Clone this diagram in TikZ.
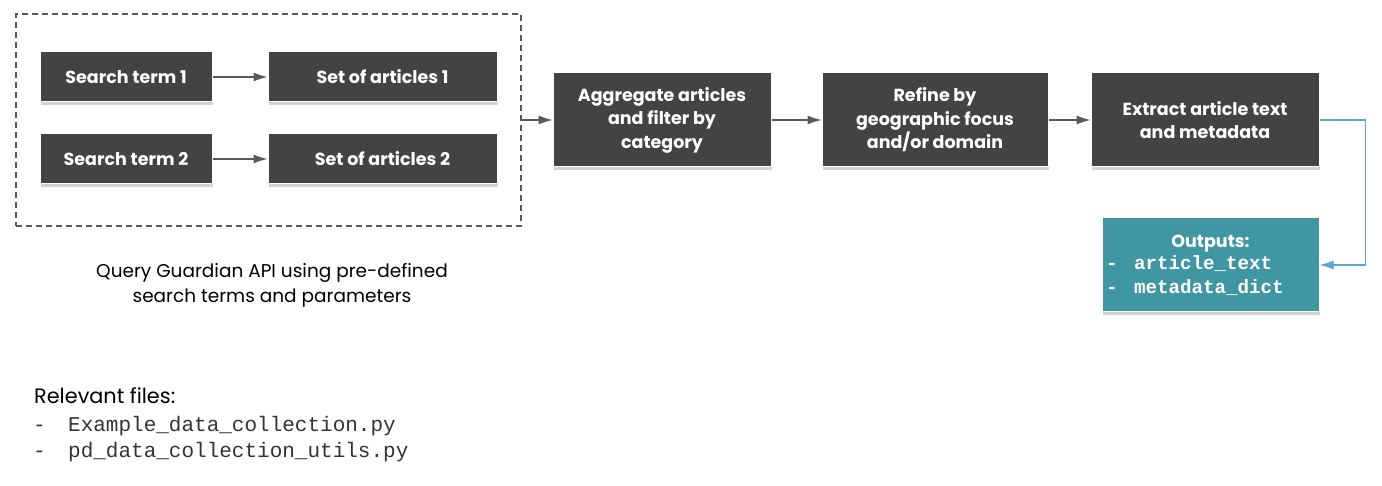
\documentclass[tikz,border=0pt]{standalone}
\usepackage{fontspec}
\setmainfont{Poppins}
\setmonofont{Liberation Mono}
\usetikzlibrary{arrows.meta, shadows}
\definecolor{boxgray}{HTML}{434343}
\definecolor{arrowgray}{HTML}{595959}
\definecolor{outteal}{HTML}{4096A3}
\definecolor{linkblue}{HTML}{5AA6D2}

\begin{document}
\begin{tikzpicture}[x=1pt, y=-1pt,
    stepbox/.style={draw=white, line width=1pt, fill=boxgray, text=white,
        font=\fontsize{17.5}{23.5}\selectfont\bfseries, align=center,
        drop shadow={shadow xshift=1pt, shadow yshift=-3pt, fill=black!35, opacity=0.5}},
    querybox/.style={draw=arrowgray, line width=1.2pt, dash pattern=on 6pt off 4pt},
    flow/.style={draw=arrowgray, line width=1.2pt, -{Latex[length=14pt, width=9pt]}}]
    \useasboundingbox (0, 0) rectangle (1382, 486);
    % Query stage
    \node [querybox, minimum width=505, minimum height=212] (query) at (268.5, 120) {};
    \node [stepbox, minimum width=172, minimum height=50] (term1) at (126, 77) {Search term 1};
    \node [stepbox, minimum width=229, minimum height=50] (set1) at (382.5, 77) {Set of articles 1};
    \node [stepbox, minimum width=172, minimum height=50] (term2) at (126, 159) {Search term 2};
    \node [stepbox, minimum width=229, minimum height=50] (set2) at (382.5, 159) {Set of articles 2};
    \node [font=\fontsize{18.5}{25}\selectfont, align=center] (querytext) at (272, 285)
        {Query Guardian API using pre-defined\\search terms and parameters};
    % Processing stages
    \node [stepbox, minimum width=218, minimum height=94] (aggregate) at (662, 120)
        {Aggregate articles\\and filter by\\category};
    \node [stepbox, minimum width=226, minimum height=94] (refine) at (935, 120)
        {Refine by\\geographic focus\\and/or domain};
    \node [stepbox, minimum width=228, minimum height=94] (extract) at (1205, 120)
        {Extract article text\\and metadata};
    \node [stepbox, fill=outteal, minimum width=217, minimum height=94, align=left,
        inner xsep=4pt] (outputs) at (1210.5, 265)
        {\makebox[209pt]{Outputs:}\\[-1pt]
         {\fontsize{19.2}{24}\ttfamily\bfseries\makebox[28pt][l]{-}article\_text}\\
         {\fontsize{19.2}{24}\ttfamily\bfseries\makebox[28pt][l]{-}metadata\_dict}};
    % Files
    \node [font=\fontsize{20.8}{24}\selectfont, anchor=west, inner sep=0pt] (files) at (34, 396)
        {Relevant files:};
    \node [font=\fontsize{21}{26}\ttfamily, text=black!80, align=left, anchor=north west,
        inner sep=0pt] (filelist) at (33, 416)
        {\makebox[35pt][l]{-}Example\_data\_collection.py\\
         \makebox[35pt][l]{-}pd\_data\_collection\_utils.py};
    % Arrows
    \draw [flow] (term1) -- (set1);
    \draw [flow] (term2) -- (set2);
    \draw [flow] (query) -- (aggregate);
    \draw [flow] (aggregate) -- (refine);
    \draw [flow] (refine) -- (extract);
    \draw [draw=linkblue, line width=1.5pt, -{Latex[length=14pt, width=9pt]}]
        (extract.east) -- ++(46, 0) |- (outputs.east);
\end{tikzpicture}
\end{document}
